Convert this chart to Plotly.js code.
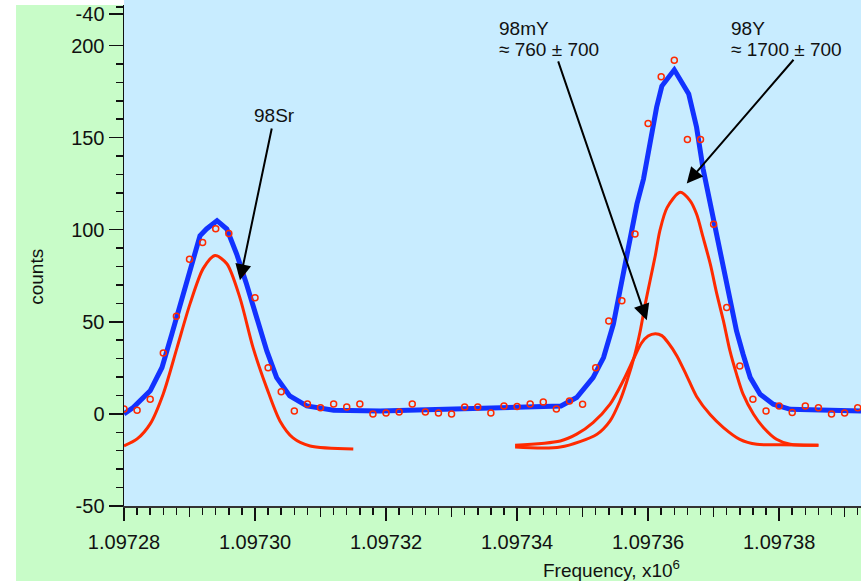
<!DOCTYPE html>
<html>
<head>
<meta charset="utf-8">
<script src="https://cdn.plot.ly/plotly-3.0.1.min.js"></script>
<style>html,body{margin:0;padding:0;background:#fff;}#chart{width:861px;height:581px;}</style>
</head>
<body>
<div id="chart"></div>
<script>
// ---- data (frequency in units of 10^6) ----
const fitFreq = [1.0972800,1.0972814,1.0972840,1.0972858,1.0972873,1.0972888,1.0972901,1.0972916,1.0972926,1.0972942,
  1.0972957,1.0972972,1.0972987,1.0973003,1.0973018,1.0973033,1.0973053,1.0973079,1.0973120,1.0973191,
  1.0973252,1.0973344,1.0973420,1.0973467,1.0973491,1.0973516,1.0973532,1.0973547,1.0973557,1.0973567,
  1.0973575,1.0973583,1.0973593,1.0973603,1.0973613,1.0973621,1.0973640,1.0973662,1.0973674,1.0973684,
  1.0973695,1.0973705,1.0973715,1.0973725,1.0973735,1.0973745,1.0973756,1.0973771,1.0973791,1.0973817,1.0973925];
const fitCounts = [0,3.4,12.5,25.2,43.3,61.4,77.7,96.7,100.4,104.9,
  100.4,86.8,70.5,52.3,34.2,19.7,9.8,4.3,2.0,1.6,
  2.2,2.7,3.3,4.3,8.9,19.7,30.6,48.7,66.8,85,
  99.5,114,127.5,148,166.5,178,186.8,173.7,155.6,133,
  114,95.8,77.7,59.6,45,32.4,19.7,10.7,5.3,2.5,1.6];

const srFreq = [1.0972800,1.0972820,1.0972840,1.0972860,1.0972881,1.0972901,1.0972921,1.0972939,1.0972957,1.0972977,
  1.0972997,1.0973018,1.0973038,1.0973058,1.0973084,1.0973150];
const srCounts = [-17.4,-13.6,-5.4,11,36,60,79,86,81.5,63,36,14,-3.8,-13,-17.4,-19];

const yFreq = [1.0973397,1.0973466,1.0973522,1.0973542,1.0973557,1.0973567,1.0973580,1.0973588,1.0973595,1.0973603,
  1.0973611,1.0973618,1.0973629,1.0973649,1.0973664,1.0973674,1.0973684,1.0973695,1.0973705,1.0973715,
  1.0973725,1.0973735,1.0973745,1.0973761,1.0973776,1.0973796,1.0973817,1.0973860];
const yCounts = [-18,-18,-11,-3.8,7,17,32.6,45,58.5,72.3,
  86,99.5,112,120.3,115.8,108.5,95.8,81.3,65,50.5,
  34.2,21.6,10.7,-0.2,-7.4,-13.8,-16.5,-17];

const myFreq = [1.0973397,1.0973466,1.0973491,1.0973516,1.0973542,1.0973562,1.0973578,1.0973590,1.0973600,1.0973611,
  1.0973621,1.0973631,1.0973644,1.0973659,1.0973674,1.0973695,1.0973715,1.0973740,1.0973766,1.0973802,1.0973860];
const myCounts = [-17,-14.7,-11,-4.7,5.3,18,30,38.5,42.3,43.5,
  42.5,38.5,31.5,20.7,9.5,-0.5,-7.4,-13.8,-16.5,-16.8,-17];

const dataFreq = [1.097280,1.097282,1.097284,1.097286,1.097288,1.097290,1.097292,1.097294,1.097296,1.097298,
  1.097300,1.097302,1.097304,1.097306,1.097308,1.097310,1.097312,1.097314,1.097316,1.097318,
  1.097320,1.097322,1.097324,1.097326,1.097328,1.097330,1.097332,1.097334,1.097336,1.097338,
  1.097340,1.097342,1.097344,1.097346,1.097348,1.097350,1.097352,1.097354,1.097356,1.097358,
  1.097360,1.097362,1.097364,1.097366,1.097368,1.097370,1.097372,1.097374,1.097376,1.097378,
  1.097380,1.097382,1.097384,1.097386,1.097388,1.097390,1.097392];
const dataCounts = [2.7,2,8,33,53,84,93,100.5,98,77,
  63,25,12,1.6,5.4,3.3,5.4,3.8,5.4,0,
  0.5,1,5.4,1,0.5,0,3.8,3.8,0.5,4.3,
  4,5.4,6.5,2.7,7,5.3,25,50.5,61.4,97.7,
  157.6,183,192,149,149,103,57.8,26,8,1.6,
  4.3,0.7,4.3,3.4,0,0.5,3.3];

const xTickVals = [1.09728,1.09730,1.09732,1.09734,1.09736,1.09738];
const xTickText = ['1.09728','1.09730','1.09732','1.09734','1.09736','1.09738'];
const xMidTicks = [1.09729,1.09731,1.09733,1.09735,1.09737,1.09739];
const yTickVals = [-50,0,50,100,150,200,217.2];
const yTickText = ['-50','0','50','100','150','200','-40'];
const yMinorTicks = [-40,-30,-20,-10,10,20,30,40,60,70,80,90,110,120,130,140,160,170,180,190,221];

const RED = 'rgb(255,42,0)';
const BLUE = 'rgb(18,50,255)';
const FONT = 'Liberation Sans, Arial, sans-serif';

const redLine = {color:RED, width:3, shape:'spline', smoothing:0.8};
const traces = [
  {x: srFreq, y: srCounts, mode:'lines', line:redLine, hoverinfo:'skip'},
  {x: yFreq, y: yCounts, mode:'lines', line:redLine, hoverinfo:'skip'},
  {x: myFreq, y: myCounts, mode:'lines', line:redLine, hoverinfo:'skip'},
  {x: fitFreq, y: fitCounts, mode:'lines', line:{color:BLUE, width:5}, hoverinfo:'skip'},
  {x: dataFreq, y: dataCounts, mode:'markers', marker:{symbol:'circle-open', size:6, color:RED, line:{width:1.5, color:RED}}, hoverinfo:'skip'},
  {x: [], y: [], xaxis:'x2', yaxis:'y', mode:'markers', hoverinfo:'skip'}
];

const xRange = [1.09728, 1.0973925];
const tickCol = '#111';

const layout = {
  width:861, height:581,
  margin:{l:124, r:0, t:5, b:74.5, pad:0},
  paper_bgcolor:'#ffffff',
  plot_bgcolor:'rgb(200,236,255)',
  showlegend:false,
  font:{family:FONT, size:20, color:'#111'},
  xaxis:{
    range:xRange, tickmode:'array', tickvals:xTickVals, ticktext:xTickText,
    ticks:'outside', ticklen:13, tickwidth:1.5, tickcolor:tickCol,
    showline:true, linecolor:'#333', linewidth:2,
    showgrid:false, zeroline:false, ticklabelstandoff:4,
    tickfont:{family:FONT, size:20, color:'#111'},
    minor:{tick0:1.09728, dtick:0.000002, ticks:'outside', ticklen:7, tickwidth:1.5, tickcolor:tickCol, showgrid:false}
  },
  xaxis2:{
    range:xRange, overlaying:'x', anchor:'y', side:'bottom',
    tickmode:'array', tickvals:xMidTicks, ticks:'outside', ticklen:10, tickwidth:1.5, tickcolor:tickCol,
    showticklabels:false, showline:false, showgrid:false, zeroline:false
  },
  yaxis:{
    range:[-50,222], tickmode:'array', tickvals:yTickVals, ticktext:yTickText,
    ticks:'outside', ticklen:14, tickwidth:1.5, tickcolor:tickCol,
    showline:true, linecolor:'#111', linewidth:1.5,
    showgrid:false, zeroline:false,
    tickfont:{family:FONT, size:20, color:'#111'},
    minor:{tickmode:'array', tickvals:yMinorTicks, ticks:'outside', ticklen:7, tickwidth:1.5, tickcolor:tickCol, showgrid:false}
  },
  shapes:[
    {type:'rect', xref:'paper', yref:'paper', x0:-0.1465, x1:1.01, y0:-0.2, y1:1, layer:'below',
     fillcolor:'rgb(200,252,200)', line:{width:0}},
    {type:'rect', xref:'paper', yref:'paper', x0:0, x1:1.01, y0:0, y1:1.01, layer:'below',
     fillcolor:'rgb(200,236,255)', line:{width:0}}
  ],
  annotations:[
    {xref:'paper', yref:'paper', x:-0.118, y:0.4576, text:'counts', textangle:-90, showarrow:false,
     xanchor:'center', yanchor:'middle', font:{family:FONT, size:19, color:'#111'}},
    {xref:'paper', yref:'paper', x:0.6608, y:-0.1266, text:'Frequency, x10<sup>6</sup>', showarrow:false,
     xanchor:'center', yanchor:'middle', font:{family:FONT, size:19, color:'#111'}},
    {xref:'paper', yref:'paper', x:0.1737, y:0.7787, text:'98Sr', showarrow:false,
     xanchor:'left', yanchor:'middle', font:{family:FONT, size:19, color:'#111'}},
    {xref:'paper', yref:'paper', x:0.5065, y:0.9531, text:'98mY', showarrow:false,
     xanchor:'left', yanchor:'middle', font:{family:FONT, size:19, color:'#111'}},
    {xref:'paper', yref:'paper', x:0.5065, y:0.9103, text:'≈ 760 ± 700', showarrow:false,
     xanchor:'left', yanchor:'middle', font:{family:FONT, size:19, color:'#111'}},
    {xref:'paper', yref:'paper', x:0.8209, y:0.9531, text:'98Y', showarrow:false,
     xanchor:'left', yanchor:'middle', font:{family:FONT, size:19, color:'#111'}},
    {xref:'paper', yref:'paper', x:0.8209, y:0.9103, text:'≈ 1700 ± 700', showarrow:false,
     xanchor:'left', yanchor:'middle', font:{family:FONT, size:19, color:'#111'}},
    {x:1.0972977, y:72.5, ax:1.0973026, ay:155.8, axref:'x', ayref:'y', text:'', showarrow:true,
     arrowhead:2, arrowsize:1.6, arrowwidth:2, arrowcolor:'#000', standoff:0},
    {x:1.0973598, y:50.8, ax:1.0973462, ay:192.2, axref:'x', ayref:'y', text:'', showarrow:true,
     arrowhead:2, arrowsize:1.6, arrowwidth:2, arrowcolor:'#000', standoff:0},
    {x:1.0973659, y:125.1, ax:1.0973824, ay:193.1, axref:'x', ayref:'y', text:'', showarrow:true,
     arrowhead:2, arrowsize:1.6, arrowwidth:2, arrowcolor:'#000', standoff:0}
  ]
};

Plotly.newPlot('chart', traces, layout, {displayModeBar:false, staticPlot:true});
</script>
</body>
</html>
